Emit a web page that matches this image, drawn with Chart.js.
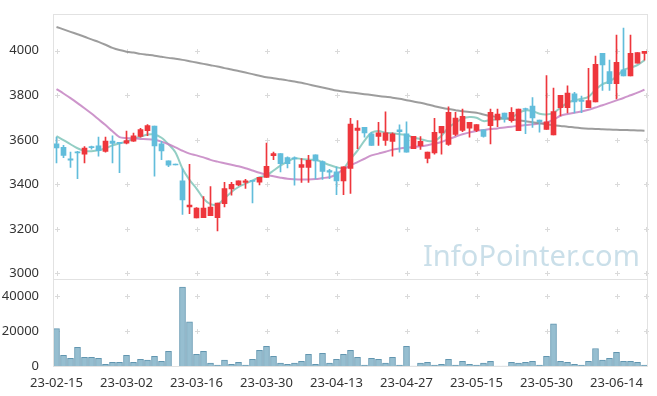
<!DOCTYPE html>
<html>
<head>
<meta charset="utf-8">
<script src="https://cdn.jsdelivr.net/npm/chart.js@4.4.1/dist/chart.umd.min.js"></script>
<style>
  html, body { margin: 0; padding: 0; background: #fff; }
</style>
</head>
<body>
<canvas id="chart" width="657" height="396"></canvas>
<script>
// trading days
const dates = [
  '23-02-15','23-02-16','23-02-17','23-02-20','23-02-21','23-02-22','23-02-23','23-02-24','23-02-27','23-02-28',
  '23-03-02','23-03-03','23-03-06','23-03-07','23-03-08','23-03-09','23-03-10','23-03-13','23-03-14','23-03-15',
  '23-03-16','23-03-17','23-03-20','23-03-21','23-03-22','23-03-23','23-03-24','23-03-27','23-03-28','23-03-29',
  '23-03-30','23-03-31','23-04-03','23-04-04','23-04-05','23-04-06','23-04-07','23-04-10','23-04-11','23-04-12',
  '23-04-13','23-04-14','23-04-17','23-04-18','23-04-19','23-04-20','23-04-21','23-04-24','23-04-25','23-04-26',
  '23-04-27','23-04-28','23-05-02','23-05-03','23-05-04','23-05-08','23-05-09','23-05-10','23-05-11','23-05-12',
  '23-05-15','23-05-16','23-05-17','23-05-18','23-05-19','23-05-22','23-05-23','23-05-24','23-05-25','23-05-26',
  '23-05-30','23-05-31','23-06-01','23-06-02','23-06-05','23-06-07','23-06-08','23-06-09','23-06-12','23-06-13',
  '23-06-14','23-06-15','23-06-16','23-06-19','23-06-20'
];

const opens = [
  3582,3566,3515,3541,3535,3565,3573,3548,3594,3584,
  3585,3594,3615,3641,3662,3582,3505,3487,3416,3299,
  3249,3250,3259,3250,3313,3379,3397,3409,3413,3410,
  3431,3529,3538,3520,3514,3476,3476,3533,3502,3462,
  3456,3415,3471,3642,3656,3627,3615,3597,3593,3645,
  3627,3560,3572,3516,3541,3631,3579,3624,3642,3652,
  3642,3645,3664,3689,3720,3686,3641,3740,3751,3689,
  3647,3622,3744,3744,3806,3778,3744,3770,3988,3907,
  3852,3914,3887,3944,3988
];
const highs = [
  3612,3575,3545,3548,3570,3572,3612,3612,3618,3586,
  3639,3630,3652,3668,3662,3593,3505,3487,3470,3490,
  3296,3345,3390,3316,3409,3409,3416,3422,3416,3431,
  3585,3545,3538,3523,3523,3516,3530,3533,3505,3467,
  3479,3479,3696,3686,3656,3634,3679,3726,3631,3667,
  3681,3616,3615,3545,3696,3661,3748,3723,3738,3679,
  3668,3645,3738,3738,3720,3745,3738,3742,3790,3689,
  3889,3832,3800,3843,3813,3796,3921,3976,3988,3958,
  4070,4102,4070,3992,3997
];
const lows = [
  3496,3520,3476,3425,3496,3558,3526,3545,3496,3452,
  3582,3593,3612,3619,3437,3511,3479,3487,3265,3268,
  3249,3250,3259,3191,3298,3351,3394,3382,3316,3397,
  3431,3511,3456,3474,3396,3409,3409,3424,3422,3425,
  3353,3353,3359,3560,3612,3575,3575,3575,3526,3545,
  3545,3560,3557,3496,3535,3535,3575,3619,3637,3612,
  3637,3612,3582,3659,3679,3679,3641,3627,3656,3634,
  3647,3622,3707,3721,3721,3722,3744,3770,3822,3822,
  3784,3887,3887,3944,3958
];
const closes = [
  3563,3530,3508,3541,3563,3565,3551,3594,3584,3584,
  3597,3618,3646,3664,3572,3550,3486,3487,3330,3307,
  3293,3293,3298,3316,3381,3400,3416,3416,3413,3431,
  3481,3538,3493,3493,3514,3489,3508,3505,3458,3455,
  3415,3479,3671,3653,3631,3575,3631,3631,3627,3637,
  3545,3616,3593,3545,3634,3661,3723,3698,3705,3679,
  3668,3615,3723,3716,3696,3723,3738,3736,3698,3680,
  3681,3727,3800,3810,3770,3772,3776,3939,3936,3852,
  3948,3887,3988,3992,3997
];
const volumes = [
  21600,6400,4700,10900,5300,5300,4700,1300,2400,2400,
  6400,2400,4100,3600,5800,3000,8600,0,45300,25500,
  6900,8600,1900,750,3600,1300,2400,750,4100,9200,
  11500,5800,1900,1300,1900,3000,6900,1300,7500,1900,
  4100,6900,9200,5300,750,4700,4100,1900,5300,750,
  11500,200,1900,2400,750,1300,4100,750,3000,1300,
  750,1900,3000,200,200,2400,1900,2400,3000,750,
  5800,24400,3000,2400,1300,750,3000,10300,3600,4700,
  8100,3000,3000,2400,750
];

// moving averages
const ma5 = [
  3617,3599,3580,3562,3550,3549,3553,3562,3575,3584,
  3592,3605,3614,3624,3624,3609,3580,3543,3470,3420,
  3381,3336,3311,3310,3336,3366,3388,3403,3418,3432,
  3440,3462,3484,3502,3517,3514,3511,3510,3499,3487,
  3477,3473,3514,3551,3596,3632,3640,3632,3630,3625,
  3622,3610,3603,3595,3595,3618,3655,3677,3695,3702,
  3699,3684,3689,3692,3695,3699,3721,3732,3729,3717,
  3714,3721,3744,3766,3778,3784,3793,3825,3850,3862,
  3884,3914,3924,3936,3958
];
const ma60 = [
  3828,3808,3787,3765,3742,3718,3692,3666,3638,3612,
  3608,3606,3604,3603,3600,3592,3580,3566,3551,3538,
  3530,3521,3510,3502,3495,3488,3481,3472,3462,3452,
  3443,3436,3430,3425,3423,3422,3422,3424,3428,3432,
  3445,3468,3485,3500,3515,3530,3538,3546,3556,3561,
  3565,3568,3571,3576,3582,3590,3603,3614,3625,3633,
  3640,3644,3648,3651,3655,3659,3663,3666,3670,3673,
  3677,3690,3708,3716,3722,3727,3735,3745,3755,3766,
  3777,3788,3800,3812,3825
];
const ma120 = [
  4107,4096,4085,4074,4063,4051,4040,4027,4013,4003,
  3996,3992,3986,3982,3978,3973,3968,3964,3959,3953,
  3947,3941,3935,3929,3922,3916,3909,3902,3895,3888,
  3881,3877,3872,3867,3862,3856,3849,3842,3835,3828,
  3821,3817,3813,3809,3805,3801,3797,3793,3789,3784,
  3778,3772,3766,3759,3751,3744,3738,3733,3728,3725,
  3722,3714,3707,3702,3697,3692,3688,3683,3679,3674,
  3670,3666,3662,3659,3655,3652,3650,3649,3647,3646,
  3645,3644,3643,3642,3641
];

const priceTicks = [3000, 3200, 3400, 3600, 3800, 4000];
const volTicks = [0, 20000, 40000];
const watermark = 'InfoPointer.com';

const UP = '#ee363c';
const DOWN = '#62bddb';
const candleColors = opens.map((o, i) => closes[i] > opens[i] ? UP : DOWN);
const tickFont = { family: '"Noto Sans", sans-serif', size: 13 };

// grid crosses, watermark and frame
const decor = {
    id: 'decor',
    beforeDatasetsDraw(chart) {
        const { ctx, chartArea: a, scales } = chart;
        ctx.save();
        ctx.font = '32px "Noto Sans"';
        const size = 32 * 217 / ctx.measureText(watermark).width;
        ctx.font = size + 'px "Noto Sans"';
        ctx.fillStyle = 'rgba(196,219,231,0.9)';
        ctx.textBaseline = 'alphabetic';
        ctx.fillText(watermark, 423, 266);

        const xs = [];
        dates.forEach((d, i) => { if (i % 10 === 0) xs.push(Math.round(scales.x.getPixelForValue(i)) + 0.5); });
        xs.push(Math.round(a.right) - 1.5);
        const ys = priceTicks.map(v => scales.y.getPixelForValue(v))
            .concat(volTicks.filter(v => v > 0).map(v => scales.yv.getPixelForValue(v)))
            .map(y => Math.round(y) + 0.5);
        ctx.strokeStyle = '#dadada';
        ctx.lineWidth = 1;
        ctx.beginPath();
        xs.forEach(x => ys.forEach(y => {
            ctx.moveTo(x - 2.5, y); ctx.lineTo(x + 2.5, y);
            ctx.moveTo(x, y - 2.5); ctx.lineTo(x, y + 2.5);
        }));
        ctx.stroke();
        ctx.restore();
    },
    afterDatasetsDraw(chart) {
        const { ctx, chartArea: a, scales } = chart;
        ctx.save();
        ctx.strokeStyle = '#e2e2e2';
        ctx.lineWidth = 1;
        ctx.strokeRect(Math.round(a.left) + 0.5, Math.round(a.top) + 0.5,
            Math.round(a.width) - 1, Math.round(a.height) - 1);
        const sep = Math.round(scales.yv.top) + 0.5;
        ctx.beginPath();
        ctx.moveTo(a.left, sep);
        ctx.lineTo(a.right, sep);
        ctx.stroke();
        ctx.restore();
    }
};

function maLine(data, color) {
    return {
        type: 'line',
        data: data,
        yAxisID: 'y',
        borderColor: color,
        borderWidth: 2,
        pointRadius: 0,
        tension: 0.3,
        order: 3
    };
}

new Chart(document.getElementById('chart'), {
    data: {
        labels: dates,
        datasets: [
            maLine(ma120, 'rgba(140,140,140,0.85)'),
            maLine(ma60, 'rgba(196,130,194,0.85)'),
            maLine(ma5, 'rgba(128,198,186,0.85)'),
            {
                // wicks
                type: 'bar',
                data: lows.map((l, i) => [l, highs[i]]),
                yAxisID: 'y',
                backgroundColor: candleColors,
                barThickness: 1,
                minBarLength: 1,
                grouped: false,
                order: 2
            },
            {
                // bodies
                type: 'bar',
                data: opens.map((o, i) => [o, closes[i]]),
                yAxisID: 'y',
                backgroundColor: candleColors,
                barThickness: 5,
                minBarLength: 1,
                grouped: false,
                order: 1
            },
            {
                type: 'bar',
                data: volumes,
                yAxisID: 'yv',
                backgroundColor: 'rgba(150,190,208,1)',
                borderColor: 'rgba(98,150,176,1)',
                borderWidth: 1,
                barThickness: 6,
                grouped: false,
                order: 1
            }
        ]
    },
    options: {
        responsive: false,
        animation: false,
        layout: { padding: { top: 10, right: 9, left: 0, bottom: 0 } },
        plugins: { legend: { display: false }, tooltip: { enabled: false } },
        scales: {
            x: {
                grid: { display: false },
                border: { display: false },
                ticks: {
                    autoSkip: false,
                    maxRotation: 0,
                    padding: 1,
                    color: '#333',
                    font: tickFont,
                    callback: (v, i) => i % 10 === 0 ? dates[i] : null
                },
                afterFit: s => { s.height = 29.5; }
            },
            y: {
                type: 'linear',
                position: 'left',
                stack: 'panels',
                stackWeight: 268,
                weight: 2,
                min: 2975,
                max: 4166,
                grid: { display: false },
                border: { display: false },
                ticks: { color: '#333', font: tickFont, padding: 6, callback: v => String(v) },
                afterBuildTicks: s => { s.ticks = priceTicks.map(v => ({ value: v })); },
                afterFit: s => { s.width = 53; }
            },
            yv: {
                type: 'linear',
                position: 'left',
                stack: 'panels',
                stackWeight: 88.5,
                weight: 1,
                min: 0,
                max: 50000,
                grid: { display: false },
                border: { display: false },
                ticks: { color: '#333', font: tickFont, padding: 6, callback: v => String(v) },
                afterBuildTicks: s => { s.ticks = volTicks.map(v => ({ value: v })); },
                afterFit: s => { s.width = 53; }
            }
        }
    },
    plugins: [decor]
});
</script>
</body>
</html>
